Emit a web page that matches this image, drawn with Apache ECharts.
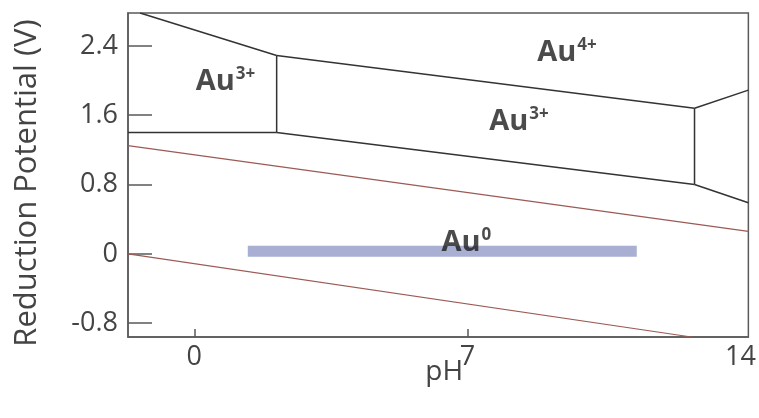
<!DOCTYPE html>
<html>
<head>
<meta charset="utf-8">
<script src="https://cdn.jsdelivr.net/npm/echarts@6/dist/echarts.min.js"></script>
<style>
html,body{margin:0;padding:0;background:#fff;}
#chart{width:759px;height:418px;}
</style>
</head>
<body>
<div id="chart"></div>
<script>
// Axis ticks
const xTickValues = [0, 7];
const xLabelValues = [0, 7, 14];
const yTickValues = [-0.8, 0, 0.8, 1.6, 2.4];

// Phase boundaries (pH, potential V)
const au3Au4Acid = [[-1.39, 2.78], [2.11, 2.29]];
const au3Au4Mid = [[2.11, 2.29], [12.82, 1.68]];
const au4Right = [[12.82, 1.68], [14.2, 1.89]];
const au3VerticalLeft = [[2.11, 2.29], [2.11, 1.40]];
const au0Au3Acid = [[-1.7, 1.40], [2.11, 1.40]];
const au0Au3Mid = [[2.11, 1.40], [12.82, 0.80]];
const au0Right = [[12.82, 0.80], [14.2, 0.59]];
const au3VerticalRight = [[12.82, 1.68], [12.82, 0.80]];

// Water stability lines
const oxygenLine = [[-1.7, 1.25], [14.2, 0.26]];
const hydrogenLine = [[-1.7, 0.0], [12.74, -0.96]];

// Highlighted band
const au0Band = [[1.37, 0.03], [11.34, 0.03]];

// Region labels
const regionLabels = [
  { name: 'Au', sup: '3+', value: [0.80, 1.985] },
  { name: 'Au', sup: '4+', value: [9.55, 2.32] },
  { name: 'Au', sup: '3+', value: [8.32, 1.52] },
  { name: 'Au', sup: '0', value: [6.97, 0.126] }
];

const chart = echarts.init(document.getElementById('chart'), null, {renderer: 'canvas'});

const boundaryStyle = {color: '#333', width: 1.5};
function seg(data, style, z) {
  return {
    type: 'line', data: data, symbol: 'none', silent: true,
    lineStyle: style, z: z || 3, animation: false
  };
}

const option = {
  animation: false,
  backgroundColor: '#ffffff',
  grid: {
    left: 128, right: 9, top: 13, bottom: 81,
    show: true, borderColor: '#5a5a5a', borderWidth: 1.5
  },
  xAxis: {
    type: 'value', min: -1.7, max: 14.2,
    name: 'pH', nameLocation: 'middle', nameGap: 21, nameMoveOverlap: false,
    nameTextStyle: {fontFamily: 'Open Sans', fontSize: 28, color: '#444', padding: [0, 0, 0, 12]},
    axisLine: {show: true, onZero: false, lineStyle: {color: '#5a5a5a', width: 1.5}},
    axisTick: {show: true, inside: true, length: 8, customValues: xTickValues,
      lineStyle: {color: '#5a5a5a', width: 1.5}},
    axisLabel: {customValues: xLabelValues, fontFamily: 'Open Sans', fontSize: 27,
      color: '#444', margin: 7},
    splitLine: {show: false}
  },
  yAxis: {
    type: 'value', min: -0.96, max: 2.78,
    name: 'Reduction Potential (V)', nameLocation: 'middle', nameGap: 85,
    nameTextStyle: {fontFamily: 'Open Sans', fontSize: 31, color: '#444', padding: [0, 16, 0, 0]},
    axisLine: {show: true, onZero: false, lineStyle: {color: '#5a5a5a', width: 1.5}},
    axisTick: {show: true, inside: true, length: 24, customValues: yTickValues,
      lineStyle: {color: '#5a5a5a', width: 1.5}},
    axisLabel: {customValues: yTickValues, fontFamily: 'Open Sans', fontSize: 27,
      color: '#444', margin: 10,
      formatter: function (v) { return String(Math.round(v * 10) / 10); }},
    splitLine: {show: false}
  },
  series: [
    seg(au0Band, {color: '#a9afd2', width: 11, cap: 'butt'}, 2),
    seg(oxygenLine, {color: '#9c5a55', width: 1.2}),
    seg(hydrogenLine, {color: '#9c5a55', width: 1.2}),
    seg(au3Au4Acid, boundaryStyle),
    seg(au3Au4Mid, boundaryStyle),
    seg(au4Right, boundaryStyle),
    seg(au3VerticalLeft, boundaryStyle),
    seg(au0Au3Acid, boundaryStyle),
    seg(au0Au3Mid, boundaryStyle),
    seg(au0Right, boundaryStyle),
    seg(au3VerticalRight, boundaryStyle),
    {
      type: 'scatter', symbolSize: 0, silent: true, z: 5,
      data: regionLabels.map(function (d) { return {value: d.value, name: d.name, sup: d.sup}; }),
      label: {
        show: true, position: 'inside',
        formatter: function (p) { return '{b|' + p.data.name + '}{s|' + p.data.sup + '}'; },
        rich: {
          b: {fontFamily: 'Open Sans', fontWeight: 'bold', fontSize: 29, color: '#1e1e1e', lineHeight: 32},
          s: {fontFamily: 'Open Sans', fontWeight: 'bold', fontSize: 17, color: '#1e1e1e', verticalAlign: 'top', lineHeight: 32, padding: [0, 0, 10, 1]}
        }
      }
    }
  ]
};
chart.setOption(option);
</script>
</body>
</html>
